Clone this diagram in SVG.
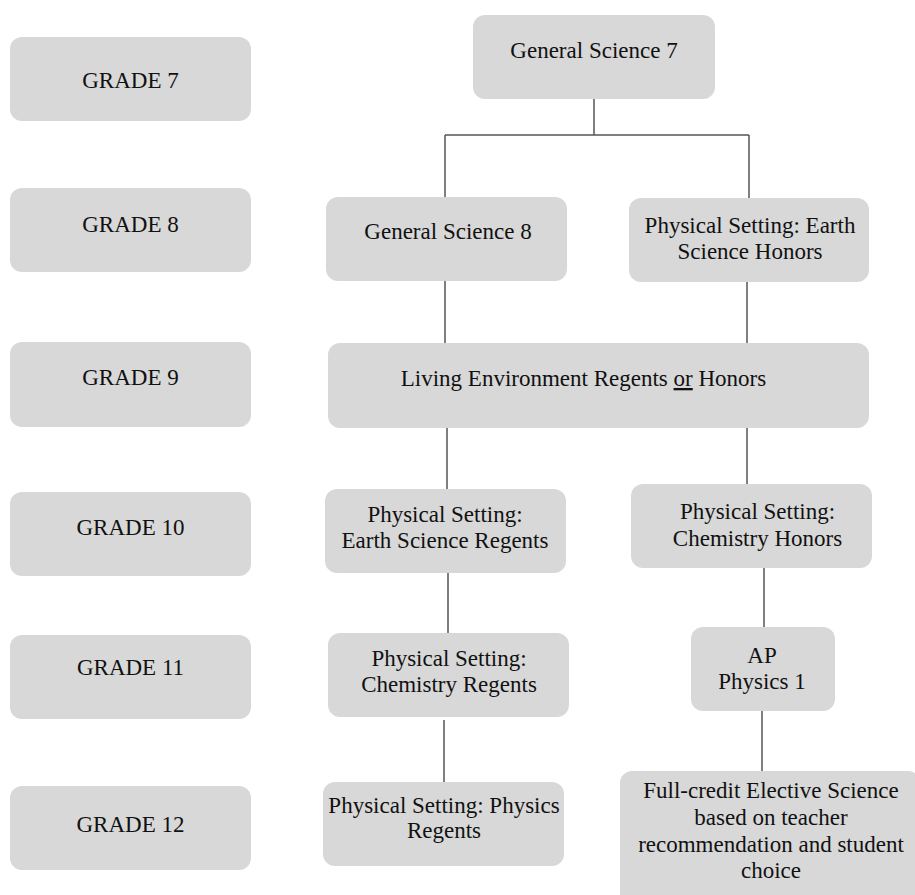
<svg xmlns="http://www.w3.org/2000/svg" width="915" height="895" viewBox="0 0 915 895">
<style>
.box{fill:#d8d8d8;}
.t{font-family:"Liberation Serif","Times New Roman",serif;font-size:23px;fill:#111;text-anchor:middle;}
.c{stroke:#555;stroke-width:1.5;fill:none;}
</style>
<rect width="915" height="895" fill="#fff"/>
<g id="connectors">
<path class="c" d="M594 99V135M445 135H749M445 135V197M749 135V198"/>
<path class="c" d="M445 281V343M747 282V343"/>
<path class="c" d="M447 428V489M747 428V484"/>
<path class="c" d="M448 573V633M764 568V627"/>
<path class="c" d="M444 720V782M762 711V771"/>
</g>
<g id="grade7"><rect class="box" x="10" y="37" width="241" height="84" rx="12"/><text class="t" x="130.5" y="88">GRADE 7</text></g>
<g id="grade8"><rect class="box" x="10" y="188" width="241" height="84" rx="12"/><text class="t" x="130.5" y="232">GRADE 8</text></g>
<g id="grade9"><rect class="box" x="10" y="342" width="241" height="85" rx="12"/><text class="t" x="130.5" y="385">GRADE 9</text></g>
<g id="grade10"><rect class="box" x="10" y="492" width="241" height="84" rx="12"/><text class="t" x="130.5" y="535">GRADE 10</text></g>
<g id="grade11"><rect class="box" x="10" y="635" width="241" height="84" rx="12"/><text class="t" x="130.5" y="675">GRADE 11</text></g>
<g id="grade12"><rect class="box" x="10" y="786" width="241" height="84" rx="12"/><text class="t" x="130.5" y="832">GRADE 12</text></g>
<g id="gs7"><rect class="box" x="473" y="15" width="242" height="84" rx="12"/><text class="t" x="594" y="58">General Science 7</text></g>
<g id="gs8"><rect class="box" x="326" y="197" width="241" height="84" rx="12"/><text class="t" x="448" y="239">General Science 8</text></g>
<g id="esh"><rect class="box" x="629" y="198" width="240" height="84" rx="12"/><text class="t" x="750" y="233">Physical Setting: Earth</text><text class="t" x="750" y="259">Science Honors</text></g>
<g id="le"><rect class="box" x="328" y="343" width="541" height="85" rx="12"/><text class="t" x="583.5" y="386">Living Environment Regents <tspan text-decoration="underline">or</tspan> Honors</text></g>
<g id="esr"><rect class="box" x="325" y="489" width="241" height="84" rx="12"/><text class="t" x="445" y="522">Physical Setting:</text><text class="t" x="445" y="548">Earth Science Regents</text></g>
<g id="ch"><rect class="box" x="631" y="484" width="241" height="84" rx="12"/><text class="t" x="757.5" y="519">Physical Setting:</text><text class="t" x="757.5" y="546">Chemistry Honors</text></g>
<g id="cr"><rect class="box" x="328" y="633" width="241" height="84" rx="12"/><text class="t" x="449" y="666">Physical Setting:</text><text class="t" x="449" y="692">Chemistry Regents</text></g>
<g id="ap"><rect class="box" x="691" y="627" width="144" height="84" rx="12"/><text class="t" x="762" y="663">AP</text><text class="t" x="762" y="689">Physics 1</text></g>
<g id="pr"><rect class="box" x="323" y="782" width="241" height="84" rx="12"/><text class="t" x="444" y="813">Physical Setting: Physics</text><text class="t" x="444" y="838">Regents</text></g>
<g id="fc"><rect class="box" x="620" y="771" width="300" height="140" rx="12"/><text class="t" x="771" y="798">Full-credit Elective Science</text><text class="t" x="771" y="825">based on teacher</text><text class="t" x="771" y="852">recommendation and student</text><text class="t" x="771" y="878">choice</text></g>
</svg>
